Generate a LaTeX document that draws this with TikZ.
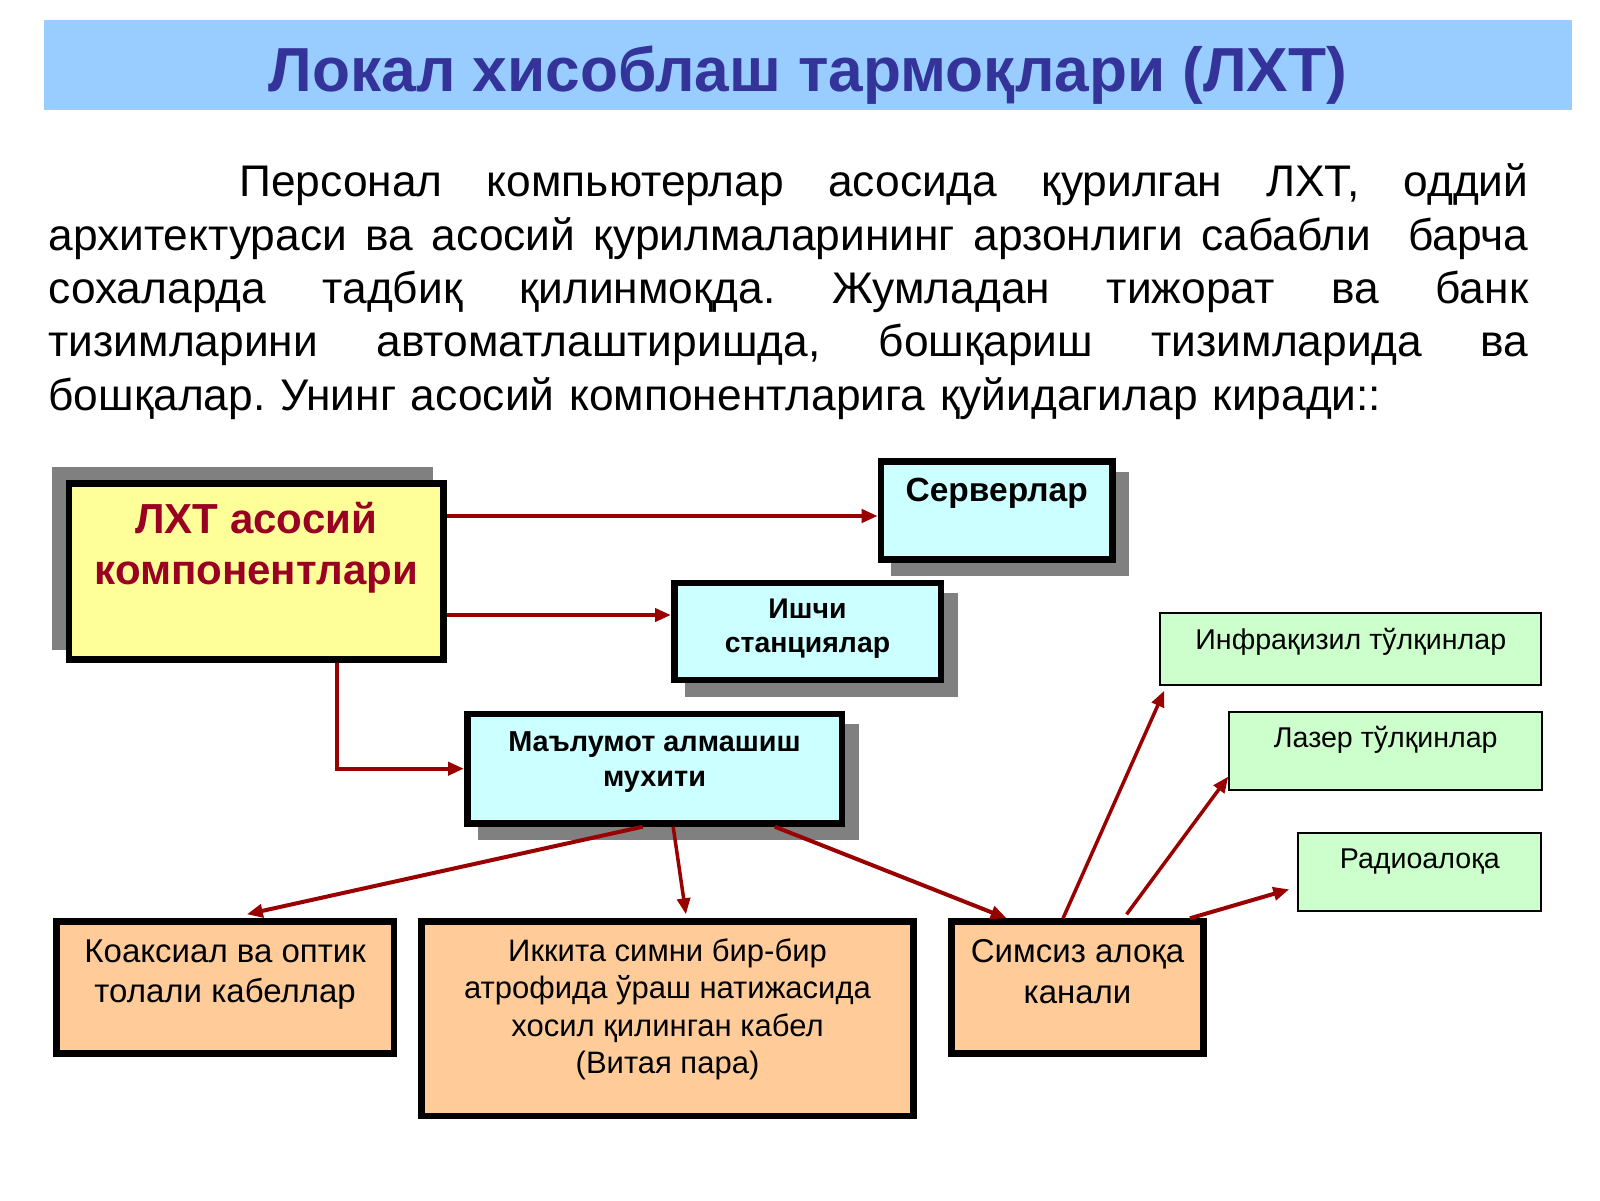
\documentclass[tikz,border=0pt]{standalone}
\usepackage{fontspec}
\setmainfont{Liberation Sans}
\usetikzlibrary{arrows.meta,shadows,calc}
\definecolor{barblue}{HTML}{99CCFF}
\definecolor{titleblue}{HTML}{333399}
\definecolor{yellowbox}{HTML}{FFFF99}
\definecolor{cyanbox}{HTML}{CCFFFF}
\definecolor{greenbox}{HTML}{CCFFCC}
\definecolor{orangebox}{HTML}{FFCC99}
\definecolor{shadowgray}{HTML}{808080}
\definecolor{arrred}{HTML}{990000}
\definecolor{mainred}{HTML}{990022}
\tikzset{
  arr/.style={draw=arrred, line width=4pt, -{Triangle[length=16pt,width=13pt]}},
  thickbox/.style={draw=black, line width=6.5pt, rectangle, inner sep=0pt},
  thinbox/.style={draw=black, line width=2pt, rectangle, inner sep=0pt, fill=greenbox},
  shad/.style={drop shadow={shadow xshift=13.5pt, shadow yshift=-13.5pt, fill=shadowgray, draw=shadowgray, opacity=1}},
  boxtext/.style={anchor=north, align=center, inner sep=0pt},
}
\newcommand{\topstrut}{\rule{0pt}{1em}}
\newcommand{\jline}[1]{\leavevmode\hbox to 1480pt{\spaceskip=0.2778em plus 1fil\relax #1}}
\newcommand{\dblsp}{\hspace{0.2778em plus 1fil}}
\begin{document}
\begin{tikzpicture}[x=1pt,y=-1pt]
\useasboundingbox (0,0) rectangle (1600,1200);
% title
\fill[barblue] (44,20.4) rectangle (1571.6,110.4);
\node[anchor=base, inner sep=0pt, text=titleblue, font=\bfseries\fontsize{62.2}{66}\selectfont] (title) at (808,91) {Локал хисоблаш тармоқлари (ЛХТ)};
% paragraph
\node[anchor=north west, text width=1480pt, align=left, inner sep=0pt, font=\fontsize{44.3}{53.3}\selectfont\frenchspacing] (para) at (48.3,152.4)
{\jline{\topstrut\hspace*{191pt}Персонал компьютерлар асосида қурилган ЛХТ, оддий}\\
\jline{архитектураси ва асосий қурилмаларининг арзонлиги сабабли \dblsp барча}\\
\jline{сохаларда тадбиқ қилинмоқда. Жумладан тижорат ва банк}\\
\jline{тизимларини автоматлаштиришда, бошқариш тизимларида ва}\\
бошқалар. Унинг асосий компонентларига қуйидагилар киради::};
% boxes
\node[thickbox, fill=yellowbox, minimum width=374.5pt, minimum height=176.2pt,
  drop shadow={shadow xshift=-13.4pt, shadow yshift=13pt, fill=shadowgray, draw=shadowgray, opacity=1},
  label={[boxtext, text=mainred, font=\bfseries\fontsize{42}{51.7}\selectfont, yshift=-11pt]north:\topstrut ЛХТ асосий\\компонентлари}]
  (main) at (256.2,571.35) {};
\node[thickbox, fill=cyanbox, shad, minimum width=231.5pt, minimum height=97.9pt,
  label={[boxtext, font=\bfseries\fontsize{33.5}{38}\selectfont, yshift=-9.6pt]north:\topstrut Серверлар}]
  (serv) at (996.7,510.5) {};
\node[thickbox, fill=cyanbox, shad, minimum width=266.5pt, minimum height=97.3pt,
  label={[boxtext, font=\bfseries\fontsize{28.4}{34.5}\selectfont, yshift=-10.1pt]north:\topstrut Ишчи\\станциялар}]
  (ishchi) at (807.5,631.4) {};
\node[thickbox, fill=cyanbox, shad, minimum width=374.5pt, minimum height=109.5pt,
  label={[boxtext, font=\bfseries\fontsize{28.85}{35.3}\selectfont, yshift=-11.5pt]north:\topstrut Маълумот алмашиш\\мухити}]
  (mal) at (654.5,768.7) {};
\node[thinbox, minimum width=381pt, minimum height=71.4pt,
  label={[boxtext, font=\fontsize{28.6}{34}\selectfont, yshift=-8.1pt]north:\topstrut Инфрақизил тўлқинлар}]
  (infra) at (1350.8,649) {};
\node[thinbox, minimum width=313pt, minimum height=78pt,
  label={[boxtext, font=\fontsize{28.6}{34}\selectfont, yshift=-7.7pt]north:\topstrut Лазер тўлқинлар}]
  (lazer) at (1385.8,751) {};
\node[thinbox, minimum width=243pt, minimum height=78pt,
  label={[boxtext, font=\fontsize{28.6}{34}\selectfont, yshift=-8pt]north:\topstrut Радиоалоқа}]
  (radio) at (1419.8,871.7) {};
\node[thickbox, fill=orangebox, minimum width=337.2pt, minimum height=131.9pt,
  label={[boxtext, font=\fontsize{33}{40}\selectfont, yshift=-11.4pt]north:\topstrut Коаксиал ва оптик\\толали кабеллар}]
  (koax) at (225.15,987.5) {};
\node[thickbox, fill=orangebox, minimum width=491.9pt, minimum height=194.5pt,
  label={[boxtext, font=\fontsize{31}{37.6}\selectfont, yshift=-11.6pt]north:\topstrut Иккита симни бир-бир\\атрофида ўраш натижасида\\хосил қилинган кабел\\(Витая пара)}]
  (ikki) at (667.5,1018.8) {};
\node[thickbox, fill=orangebox, minimum width=251.9pt, minimum height=131.9pt,
  label={[boxtext, font=\fontsize{33}{40.5}\selectfont, yshift=-11.1pt]north:\topstrut Симсиз алоқа\\канали}]
  (sims) at (1077.5,987.5) {};
% arrows
\draw[arr] ($(main.north east)!0.197!(main.south east)$) coordinate (a1) -- (a1 -| serv.west);
\draw[arr] ($(main.north east)!0.739!(main.south east)$) coordinate (a2) -- (a2 -| ishchi.west);
\draw[arr] ($(main.south west)!0.711!(main.south east)$) |- (mal.west);
\draw[arr] ($(mal.south west)!0.469!(mal.south east)$) -- ($(koax.north west)!0.563!(koax.north east)+(0,-4)$);
\draw[arr, line width=3.5pt] ($(mal.south west)!0.549!(mal.south east)$) -- ($(ikki.north west)!0.537!(ikki.north east)+(0,-4)$);
\draw[arr] ($(mal.south west)!0.816!(mal.south east)$) -- ($(sims.north west)!0.226!(sims.north east)$);
\draw[arr, line width=3.5pt] ($(sims.north west)!0.444!(sims.north east)$) -- ($(infra.south west)+(5,5)$);
\draw[arr, line width=3.5pt] ($(sims.north west)!0.69!(sims.north east)+(0,-4)$) -- ($(lazer.north west)!0.82!(lazer.south west)$);
\draw[arr] ($(sims.north west)!0.935!(sims.north east)$) -- ($(radio.north west)!0.72!(radio.south west)+(-8,0)$);
\end{tikzpicture}
\end{document}
